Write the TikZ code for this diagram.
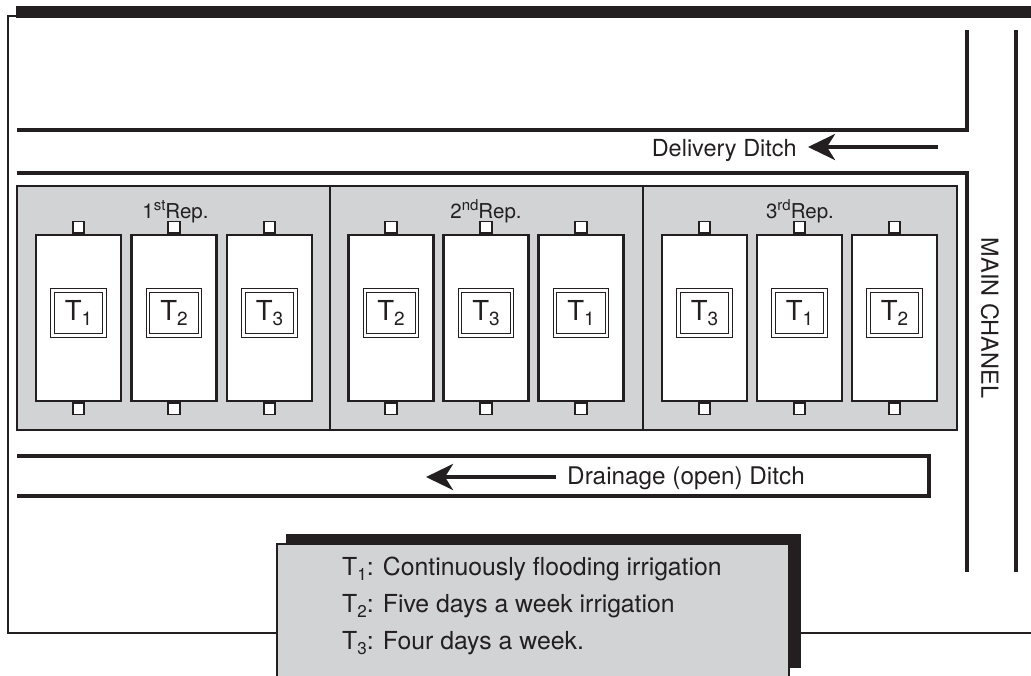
\documentclass[tikz,border=0pt]{standalone}
\usepackage{fontspec}
\setmainfont{TeX Gyre Heros}
\usetikzlibrary{arrows.meta}
\definecolor{fieldgray}{RGB}{209,211,212}
\definecolor{ink}{RGB}{35,31,32}
\newcommand{\Tlab}[1]{T\raisebox{-5.5pt}{\fontsize{19}{19}\selectfont #1}}
\newcommand{\Tleg}[1]{T\raisebox{-5pt}{\fontsize{17}{17}\selectfont #1}}
\newcommand{\replab}[2]{#1\raisebox{8pt}{\fontsize{15}{15}\selectfont #2}Rep.}
\begin{document}
\begin{tikzpicture}[x=1pt,y=-1pt,
  ditch/.style={draw=ink,line width=4pt},
  frameline/.style={draw=ink,line width=2.5pt},
  plotbox/.style={draw=ink,line width=2.2pt,fill=white,minimum width=85pt,minimum height=166pt,inner sep=0pt},
  gate/.style={draw=ink,line width=1.8pt,fill=white,minimum size=11.5pt,inner sep=0pt},
  tbox/.style={draw=ink,line width=0.9pt,double=white,double distance=2.4pt,fill=white,minimum width=52pt,minimum height=45pt,inner sep=0pt,font=\fontsize{27.5}{27.5}\selectfont,text=ink},
  replabel/.style={inner sep=0pt,font=\fontsize{20.5}{20.5}\selectfont,text=ink},
  ditchlabel/.style={inner sep=0pt,font=\fontsize{23.5}{23.5}\selectfont,text=ink},
  legendtext/.style={inner sep=0pt,anchor=base west,font=\fontsize{24.8}{24.8}\selectfont,text=ink},
  flowarrow/.style={draw=ink,line width=4pt,-{Stealth[length=27pt,width=26pt,inset=8pt]}}
]
\useasboundingbox (0,0) rectangle (1031,675);

% outer frame
\fill[ink] (16,6) rectangle (1031,18);
\draw[frameline] (16,16) -- (8,16) -- (8,633) -- (277,633);
\draw[frameline] (801,633) -- (1031,633);

% delivery ditch and main channel
\draw[ditch] (17,130) -- (967,130) -- (967,30);
\draw[ditch] (17,173) -- (967,173) -- (967,572);
\draw[ditch] (1016,30) -- (1016,572);
\coordinate (dtail) at (938,147);
\coordinate (dtip) at (808,147);
\draw[flowarrow] (dtail) -- (dtip);
\node[ditchlabel,anchor=base east] (delivery) at (797,156) {Delivery Ditch};
\node[ditchlabel,rotate=-90] (mainch) at (990,318) {MAIN CHANEL};

% field
\draw[fill=fieldgray,draw=ink,line width=2pt] (17,186) rectangle (957,430);
\draw[draw=ink,line width=1.5pt] (330,186) -- (330,430);
\draw[draw=ink,line width=1.5pt] (643,186) -- (643,430);

\node[replabel,anchor=base] (rep1) at (175.5,218) {\replab{1}{st}};
\node[replabel,anchor=base] (rep2) at (486,218) {\replab{2}{nd}};
\node[replabel,anchor=base] (rep3) at (800,218) {\replab{3}{rd}};

\foreach \n/\x/\t in {a/78.5/1,b/174/2,c/269.5/3,d/391/2,e/486/3,f/581/1,g/704.5/3,h/799.5/1,i/894.5/2}{
  \node[plotbox] (p\n) at (\x,318) {};
  \node[gate,anchor=south] (gt\n) at (p\n.north) {};
  \node[gate,anchor=north] (gb\n) at (p\n.south) {};
  \node[tbox] (t\n) at ([yshift=5pt]p\n.center) {\Tlab{\t}};
}

% drainage ditch
\draw[ditch] (17,456) -- (929,456) -- (929,496) -- (17,496);
\coordinate (rtail) at (556,477);
\coordinate (rtip) at (426,477);
\draw[flowarrow] (rtail) -- (rtip);
\node[ditchlabel,anchor=base west,font=\fontsize{24.3}{24.3}\selectfont] (drainage) at (567,484) {Drainage (open) Ditch};

% legend
\fill[ink] (286,534) rectangle (801,668);
\draw[fill=fieldgray,draw=ink,line width=2pt] (277,544) rectangle (789,700);
\node[legendtext] (leg1) at (342,575) {\Tleg{1}: Continuously flooding irrigation};
\node[legendtext] (leg2) at (342,612) {\Tleg{2}: Five days a week irrigation};
\node[legendtext] (leg3) at (342,649) {\Tleg{3}: Four days a week.};
\end{tikzpicture}
\end{document}
